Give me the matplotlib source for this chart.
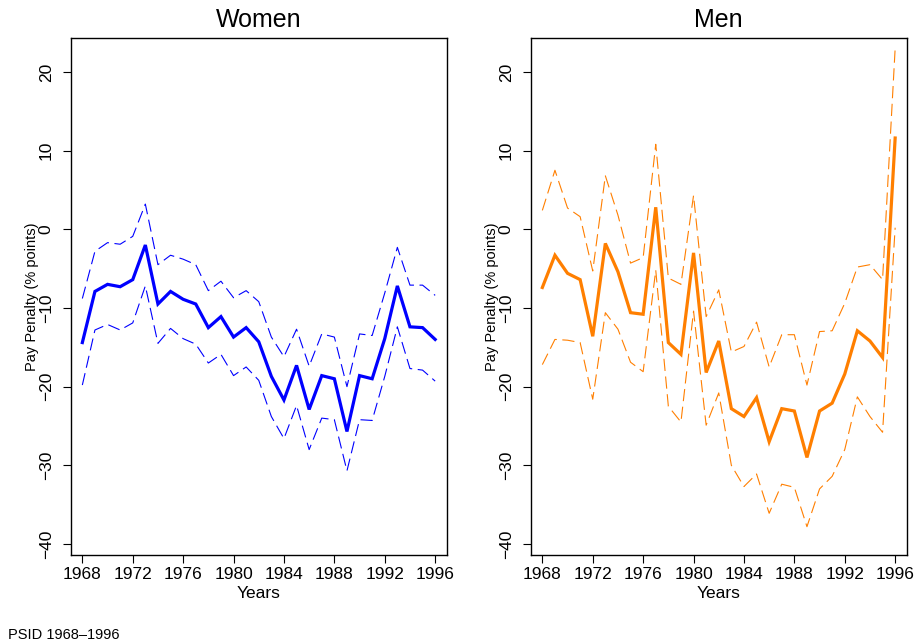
import matplotlib
matplotlib.use("Agg")
import matplotlib.pyplot as plt

plt.rcParams['font.family'] = ['Liberation Sans', 'DejaVu Sans']

# Data (pay penalty, % points)
years = list(range(1968, 1997))

women_est = [-14.4, -7.9, -7.0, -7.3, -6.4, -2.0, -9.5, -7.9, -8.9, -9.5, -12.5, -11.1, -13.7, -12.5, -14.3,
             -18.7, -21.7, -17.3, -22.9, -18.6, -19.0, -25.7, -18.6, -19.0, -13.9, -7.2, -12.4, -12.5, -14.0]
women_hi = [-8.8, -2.8, -1.7, -1.9, -0.9, 3.2, -4.5, -3.3, -3.8, -4.5, -7.8, -6.6, -8.7, -7.8, -9.2,
            -13.7, -16.2, -12.7, -17.4, -13.3, -13.7, -20.0, -13.3, -13.5, -8.1, -2.3, -7.1, -7.1, -8.4]
women_lo = [-19.8, -12.8, -12.1, -12.8, -11.9, -7.2, -14.5, -12.6, -13.9, -14.6, -17.0, -15.9, -18.6, -17.5, -19.2,
            -23.8, -26.6, -22.4, -28.0, -24.0, -24.2, -30.7, -24.2, -24.3, -18.7, -12.4, -17.7, -17.9, -19.3]

men_est = [-7.4, -3.3, -5.6, -6.4, -13.6, -1.8, -5.4, -10.6, -10.8, 2.8, -14.4, -15.9, -3.0, -18.2, -14.2,
           -22.8, -23.8, -21.4, -27.0, -22.8, -23.1, -29.0, -23.1, -22.1, -18.4, -12.9, -14.2, -16.3, 11.6]
men_hi = [2.4, 7.5, 2.7, 1.6, -5.3, 6.8, 1.8, -4.3, -3.6, 10.8, -6.2, -7.0, 4.3, -11.1, -7.7,
          -15.6, -14.9, -11.8, -17.5, -13.4, -13.4, -19.8, -13.0, -12.9, -9.4, -4.8, -4.5, -6.4, 23.0]
men_lo = [-17.2, -14.0, -14.1, -14.4, -21.6, -10.6, -12.7, -16.9, -18.1, -5.2, -22.5, -24.5, -10.4, -24.9, -20.8,
          -30.0, -32.7, -31.1, -36.1, -32.4, -32.8, -37.8, -33.0, -31.4, -28.0, -21.3, -23.8, -25.8, 0.2]

xticks = list(range(1968, 1997, 4))
yticks = [-40, -30, -20, -10, 0, 10, 20]

W, H = 916, 644
fig = plt.figure(figsize=(W / 100, H / 100), dpi=100)


def panel(left_px, title, est, lo, hi, color):
    ax = fig.add_axes([left_px / W, 1 - 555 / H, 375.5 / W, 517.3 / H])
    ax.plot(years, est, color=color, lw=2.3, solid_joinstyle='miter')
    for band in (lo, hi):
        ax.plot(years, band, color=color, lw=0.8, dashes=(11, 5))
    ax.set_xlim(1967.1, 1996.9)
    ax.set_ylim(-41.4, 24.35)
    ax.set_xticks(xticks)
    ax.set_yticks(yticks)
    ax.tick_params(axis='both', direction='out', length=5.5, width=0.8, labelsize=12.5, pad=3)
    ax.tick_params(axis='y', pad=7)
    for lab in ax.get_yticklabels():
        lab.set_rotation(90)
        lab.set_va('center')
    for s in ax.spines.values():
        s.set_linewidth(1.0)
    ax.set_title(title, fontsize=18, pad=8)
    ax.set_xlabel('Years', fontsize=12.5, labelpad=3)
    ax.set_ylabel('Pay Penalty (% points)', fontsize=10.5, labelpad=0)
    return ax


panel(71, 'Women', women_est, women_lo, women_hi, '#0000FF')
panel(531, 'Men', men_est, men_lo, men_hi, '#FF7F00')

fig.text(8 / W, 1 - 635 / H, 'PSID 1968\u20131996', fontsize=10.5, va='center', ha='left')

fig.savefig('out.png', dpi=100)
